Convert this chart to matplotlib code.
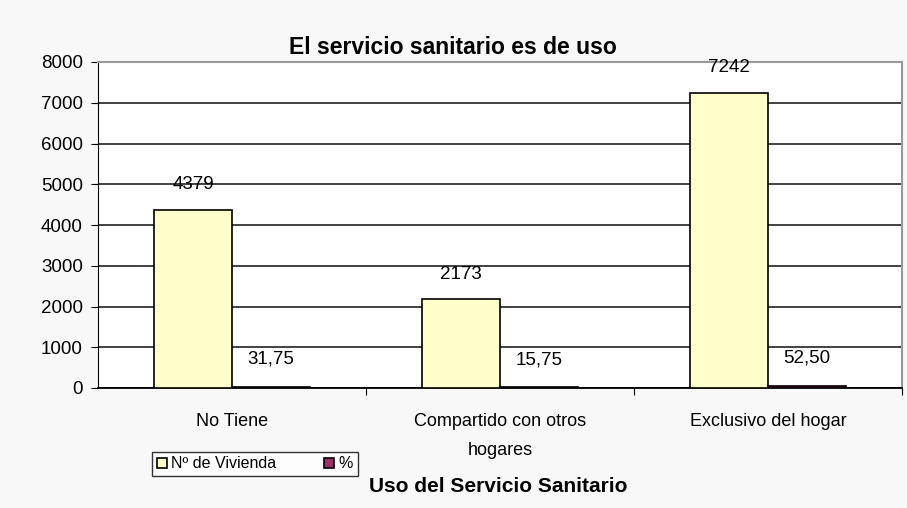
import numpy as np
import matplotlib.pyplot as plt

plt.rcParams['font.family'] = ['Liberation Sans', 'DejaVu Sans']

# Datos
categorias = ['No Tiene', 'Compartido con otros\nhogares', 'Exclusivo del hogar']
viviendas = [4379, 2173, 7242]
porcentaje = [31.75, 15.75, 52.50]
etiquetas_pct = ['31,75', '15,75', '52,50']

fig = plt.figure(figsize=(9.07, 5.08), dpi=100)
fig.patch.set_facecolor('#f8f8f8')
ax = fig.add_axes([98 / 907, 120 / 508, 804 / 907, 326 / 508])
ax.set_facecolor('white')

x = np.arange(len(categorias))
ancho = 0.29

b1 = ax.bar(x - ancho / 2, viviendas, ancho, color='#ffffcc', edgecolor='black', linewidth=1.2,
            label='Nº de Vivienda', zorder=3)
b2 = ax.bar(x + ancho / 2, porcentaje, ancho, color='#993366', edgecolor='black', linewidth=1.2,
            label='%', zorder=3)

for rect, v in zip(b1, viviendas):
    ax.annotate(str(v), (rect.get_x() + rect.get_width() / 2, rect.get_height()),
                xytext=(0, 18), textcoords='offset points', ha='center', va='center', fontsize=13.5)
for rect, t in zip(b2, etiquetas_pct):
    ax.annotate(t, (rect.get_x() + rect.get_width() / 2, rect.get_height()),
                xytext=(0, 20), textcoords='offset points', ha='center', va='center', fontsize=13.5)

ax.set_xlim(-0.5, 2.5)
ax.set_ylim(0, 8000)
ax.set_yticks(range(0, 8001, 1000))
ax.yaxis.grid(True, color='#333333', linewidth=1.3, zorder=0)

ax.set_xticks([0.5, 1.5, 2.5], minor=False)
ax.set_xticklabels([])
ax.set_xticks(x, minor=True)
ax.set_xticklabels(categorias, minor=True, fontsize=13, linespacing=1.95)
ax.tick_params(axis='x', which='minor', length=0, pad=18)
ax.tick_params(axis='x', which='major', length=5, color='black', direction='out')
ax.tick_params(axis='y', length=5, labelsize=13.5, direction='out', pad=6)

for lado in ['top', 'right']:
    ax.spines[lado].set_color('#999999')
    ax.spines[lado].set_linewidth(1.5)
ax.spines['left'].set_color('black')
ax.spines['bottom'].set_color('black')
ax.spines['bottom'].set_linewidth(1.3)

fig.text(453 / 907, 1 - 47 / 508, 'El servicio sanitario es de uso', ha='center', va='center',
         fontsize=16.5, fontweight='bold')
fig.text(498 / 907, 1 - 486 / 508, 'Uso del Servicio Sanitario', ha='center', va='center',
         fontsize=15, fontweight='bold')

leg = fig.legend(loc='center', bbox_to_anchor=(255 / 907, 1 - 464 / 508), ncol=2, fontsize=11.5,
                 frameon=True, fancybox=False, edgecolor='black', handlelength=0.6, handleheight=0.6,
                 columnspacing=3.0, handletextpad=0.3, borderpad=0.3)
leg.get_frame().set_linewidth(1.0)

fig.savefig('out.png', dpi=100, facecolor=fig.get_facecolor())
